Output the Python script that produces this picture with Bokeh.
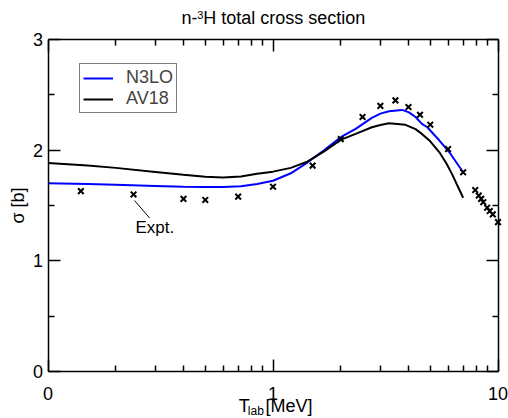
from math import log10, pi

from bokeh.plotting import figure
from bokeh.models import FixedTicker, LinearAxis, LogAxis, Label, Legend, LegendItem
from bokeh.embed import file_html
from bokeh.resources import INLINE

FONT = "Liberation Sans"

# Measured n-3H total cross section (energy in MeV, sigma in barn)
expt_energy = [0.14, 0.24, 0.40, 0.50, 0.70, 1.0, 1.5, 2.0, 2.5, 3.0, 3.5, 4.0,
               4.5, 5.0, 6.0, 7.0, 7.92, 8.21, 8.42, 8.60, 8.95, 9.19, 9.48, 10.0]
expt_sigma = [1.63, 1.60, 1.56, 1.55, 1.58, 1.67, 1.86, 2.10, 2.30, 2.40, 2.45, 2.39,
              2.32, 2.23, 2.01, 1.80, 1.64, 1.59, 1.56, 1.53, 1.48, 1.45, 1.42, 1.35]

# Chiral N3LO potential
n3lo_energy = [0.10, 0.15, 0.20, 0.30, 0.40, 0.50, 0.60, 0.72, 0.85, 1.0, 1.2, 1.42,
               1.68, 2.0, 2.33, 2.75, 3.0, 3.28, 3.75, 4.02, 4.3, 4.59, 4.85, 5.49,
               6.08, 7.0]
n3lo_sigma = [1.701, 1.694, 1.687, 1.677, 1.670, 1.667, 1.667, 1.674, 1.695, 1.724,
              1.791, 1.888, 1.996, 2.117, 2.192, 2.292, 2.330, 2.351, 2.364, 2.342,
              2.300, 2.238, 2.207, 2.087, 1.981, 1.800]

# Argonne v18 potential
av18_energy = [0.10, 0.15, 0.20, 0.30, 0.40, 0.50, 0.60, 0.72, 0.85, 1.0, 1.2, 1.42,
               1.68, 2.0, 2.33, 2.75, 3.0, 3.28, 3.88, 4.3, 4.59, 5.0, 5.49, 5.9,
               6.24, 7.0]
av18_sigma = [1.885, 1.861, 1.840, 1.803, 1.777, 1.760, 1.754, 1.762, 1.786, 1.806,
              1.840, 1.897, 1.987, 2.093, 2.147, 2.207, 2.228, 2.243, 2.229, 2.190,
              2.147, 2.080, 1.981, 1.880, 1.786, 1.570]

x_ticks = [0.1, 1, 10]
x_tick_labels = ["0", "1", "10"]
x_minor_ticks = [0.2, 0.3, 0.4, 0.5, 0.6, 0.7, 0.8, 0.9, 2, 3, 4, 5, 6, 7, 8, 9]
y_ticks = [0, 1, 2, 3]
y_minor_ticks = [0.5, 1.5, 2.5]
X_MIN, X_MAX = 0.1, 10.0
Y_MIN, Y_MAX = 0.0, 3.0

# Page geometry: the plotting box sits inside a canvas that also carries all texts,
# so the ranges are widened to cover the whole canvas and the axes are pinned to
# the edges of the box with fixed_location.
W, H = 508, 418
BOX_L, BOX_R, BOX_T, BOX_B = 47.5, 497.5, 39.0, 371.0
PX_PER_DECADE = (BOX_R - BOX_L) / log10(X_MAX / X_MIN)
PX_PER_UNIT = (BOX_B - BOX_T) / (Y_MAX - Y_MIN)
x_start = X_MIN * 10 ** (-BOX_L / PX_PER_DECADE)
x_end = X_MAX * 10 ** ((W - BOX_R) / PX_PER_DECADE)
y_start = Y_MIN - (H - BOX_B) / PX_PER_UNIT
y_end = Y_MAX + BOX_T / PX_PER_UNIT


def at_x(px):
    """Canvas pixel column -> energy."""
    return x_start * 10 ** (px / PX_PER_DECADE)


def at_y(py):
    """Canvas pixel row (from the top) -> sigma."""
    return y_end - py / PX_PER_UNIT


p = figure(width=W, height=H, min_border=0,
           x_axis_type="log", x_range=(x_start, x_end), y_range=(y_start, y_end),
           output_backend="svg", toolbar_location=None)
p.title.visible = False
p.xgrid.visible = False
p.ygrid.visible = False
p.outline_line_color = None
p.background_fill_color = "white"
p.border_fill_color = "white"


def style_axis(ax, location, bounds):
    ax.fixed_location = location
    ax.bounds = bounds
    ax.axis_line_color = "black"
    ax.axis_line_width = 1.5
    ax.major_tick_line_color = "black"
    ax.minor_tick_line_color = "black"
    ax.major_tick_line_width = 1.5
    ax.minor_tick_line_width = 1.5
    ax.major_tick_in = 12
    ax.major_tick_out = 0
    ax.minor_tick_in = 6
    ax.minor_tick_out = 0
    ax.major_label_text_font = FONT
    ax.major_label_text_color = "black"
    ax.major_label_text_font_size = "18px"


def hide_labels(ax, ticks):
    ax.major_label_overrides = {t: "" for t in ticks}
    ax.major_label_text_font_size = "1px"
    ax.major_label_standoff = 0


xb = p.xaxis[0]
xb.ticker = FixedTicker(ticks=x_ticks, minor_ticks=x_minor_ticks)
style_axis(xb, Y_MIN, (X_MIN, X_MAX))
xb.major_label_overrides = {t: s for t, s in zip(x_ticks, x_tick_labels)}
xb.major_label_standoff = 15

yl = p.yaxis[0]
yl.ticker = FixedTicker(ticks=y_ticks, minor_ticks=y_minor_ticks)
style_axis(yl, X_MIN, (Y_MIN, Y_MAX))
yl.major_label_standoff = 5

# mirrored tick marks on the top and right edges, without labels
xt = LogAxis(ticker=FixedTicker(ticks=x_ticks, minor_ticks=x_minor_ticks))
style_axis(xt, Y_MAX, (X_MIN, X_MAX))
hide_labels(xt, x_ticks)
p.add_layout(xt, "above")

yr = LinearAxis(ticker=FixedTicker(ticks=y_ticks, minor_ticks=y_minor_ticks))
style_axis(yr, X_MAX, (Y_MIN, Y_MAX))
hide_labels(yr, y_ticks)
p.add_layout(yr, "right")

# theory curves
r_n3lo = p.line(n3lo_energy, n3lo_sigma, line_color="#0000ff", line_width=2)
r_av18 = p.line(av18_energy, av18_sigma, line_color="black", line_width=2)

# experimental points
p.scatter(expt_energy, expt_sigma, marker="x", size=8,
          line_color="black", line_width=2)

legend = Legend(items=[LegendItem(label="N3LO", renderers=[r_n3lo]),
                       LegendItem(label="AV18", renderers=[r_av18])],
                location=(79, H - 113))
legend.border_line_color = "black"
legend.border_line_width = 1
legend.padding = 3
legend.spacing = -3
legend.margin = 0
legend.glyph_width = 30
legend.glyph_height = 18
legend.label_height = 18
legend.label_standoff = 13
legend.label_text_font = FONT
legend.label_text_font_size = "18px"
legend.background_fill_color = "white"
legend.background_fill_alpha = 1
p.add_layout(legend)

# pointer to the experimental data
p.segment(x0=[0.2424], y0=[1.545], x1=[0.2826], y1=[1.388],
          line_color="black", line_width=1)


def text(px, py, s, size, **kw):
    p.add_layout(Label(x=at_x(px), y=at_y(py), text=s, text_font=FONT,
                       text_font_size=size, text_color="black", **kw))


text(135, 236.7, "Expt.", "17px")

# title: n-3H with the mass number as a superscript
text(181, 27.3, "n-", "18px")
text(196.7, 18.3, "3", "11px")
text(202.7, 27.3, "H total cross section", "18px")

# axis titles
text(238.3, 415, "T", "18px")
text(247.3, 417.5, "lab", "12px")
text(265, 415, "[MeV]", "18px")
text(17.5, 205, "σ [b]", "18px", angle=pi / 2,
     text_align="center", text_baseline="middle")

open("out.html", "w").write(file_html(p, INLINE))
